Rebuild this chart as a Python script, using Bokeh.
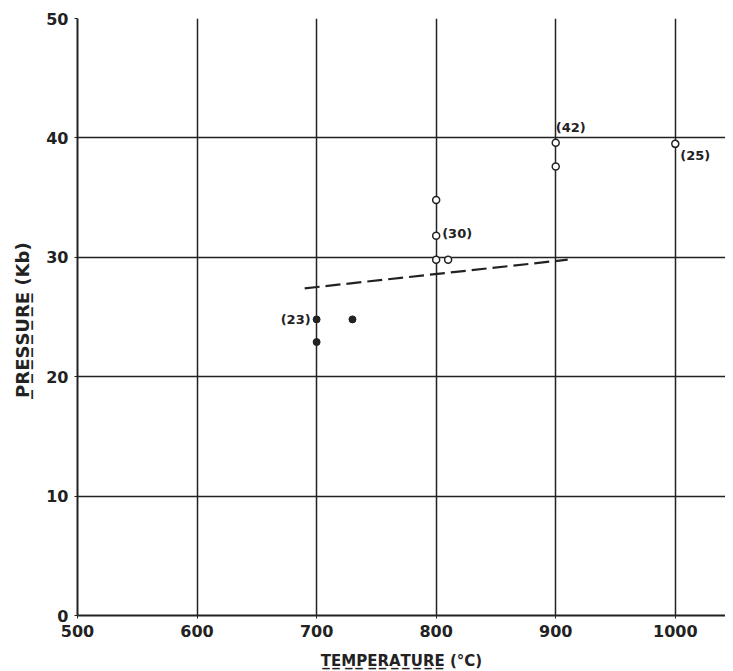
from bokeh.plotting import figure
from bokeh.models import FixedTicker, Label
from bokeh.embed import file_html
from bokeh.resources import INLINE

# Data
open_temp = [800, 800, 800, 810, 900, 900, 1000]
open_press = [34.8, 31.8, 29.8, 29.8, 39.6, 37.6, 39.5]
filled_temp = [700, 700, 730]
filled_press = [24.8, 22.9, 24.8]
dash_temp = [690, 910]
dash_press = [27.4, 29.8]
ann_text = ["(30)", "(42)", "(25)", "(23)"]
ann_temp = [800, 900, 1000, 700]
ann_press = [31.8, 39.6, 39.5, 24.8]
x_ticks = [500, 600, 700, 800, 900, 1000]
y_ticks = [0, 10, 20, 30, 40, 50]

FONT = "DejaVu Sans"

p = figure(width=725, height=663, frame_width=648, frame_height=597,
           x_range=(500, 1042), y_range=(0, 50),
           output_backend="svg", toolbar_location=None,
           min_border_left=77, min_border_top=18, min_border_right=0, min_border_bottom=48)
p.outline_line_color = None
p.background_fill_color = "white"
p.border_fill_color = "white"

for ax in (p.xaxis[0], p.yaxis[0]):
    ax.axis_line_color = "#222222"
    ax.axis_line_width = 2
    ax.major_tick_line_color = "#222222"
    ax.major_tick_in = 0
    ax.major_tick_out = 3
    ax.minor_tick_line_color = None
    ax.major_label_text_font = FONT
    ax.major_label_text_font_style = "bold"
    ax.major_label_text_font_size = "16px"
    ax.major_label_text_color = "#222222"
    ax.axis_label_text_font = FONT
    ax.axis_label_text_font_style = "bold"
    ax.axis_label_text_font_size = "15px"
    ax.axis_label_text_color = "#222222"

p.yaxis.axis_label_text_font_size = "18px"
p.xaxis.ticker = FixedTicker(ticks=x_ticks)
p.yaxis.ticker = FixedTicker(ticks=y_ticks)
p.xaxis.axis_label = "T\u0332E\u0332M\u0332P\u0332E\u0332R\u0332A\u0332T\u0332U\u0332R\u0332E\u0332 (°C)"
p.yaxis.axis_label = "P\u0332R\u0332E\u0332S\u0332S\u0332U\u0332R\u0332E\u0332  (Kb)"
p.xaxis.major_label_standoff = 6
p.yaxis.major_label_standoff = 6
p.xaxis.axis_label_standoff = 12
p.yaxis.axis_label_standoff = 10

p.xgrid.ticker = FixedTicker(ticks=x_ticks)
p.ygrid.ticker = FixedTicker(ticks=y_ticks)
for g in (p.xgrid[0], p.ygrid[0]):
    g.grid_line_color = "#222222"
    g.grid_line_width = 1.5
    g.grid_line_alpha = 1.0

p.line(dash_temp, dash_press, line_color="#222222", line_width=2.2, line_dash="15 6")

p.scatter(open_temp, open_press, size=7, marker="circle", fill_color="white",
          line_color="#222222", line_width=1.5)
p.scatter(filled_temp, filled_press, size=7, marker="circle", fill_color="#222222",
          line_color="#222222")

offsets = [(6, 2, "left", "middle"), (0, 8, "left", "bottom"),
           (5, -4, "left", "top"), (-6, 0, "right", "middle")]
for t, x, y, (dx, dy, al, bl) in zip(ann_text, ann_temp, ann_press, offsets):
    p.add_layout(Label(x=x, y=y, text=t, x_offset=dx, y_offset=dy,
                       text_align=al, text_baseline=bl, text_font=FONT,
                       text_font_style="bold", text_font_size="13px",
                       text_color="#222222"))

open("out.html", "w").write(file_html(p, INLINE))
